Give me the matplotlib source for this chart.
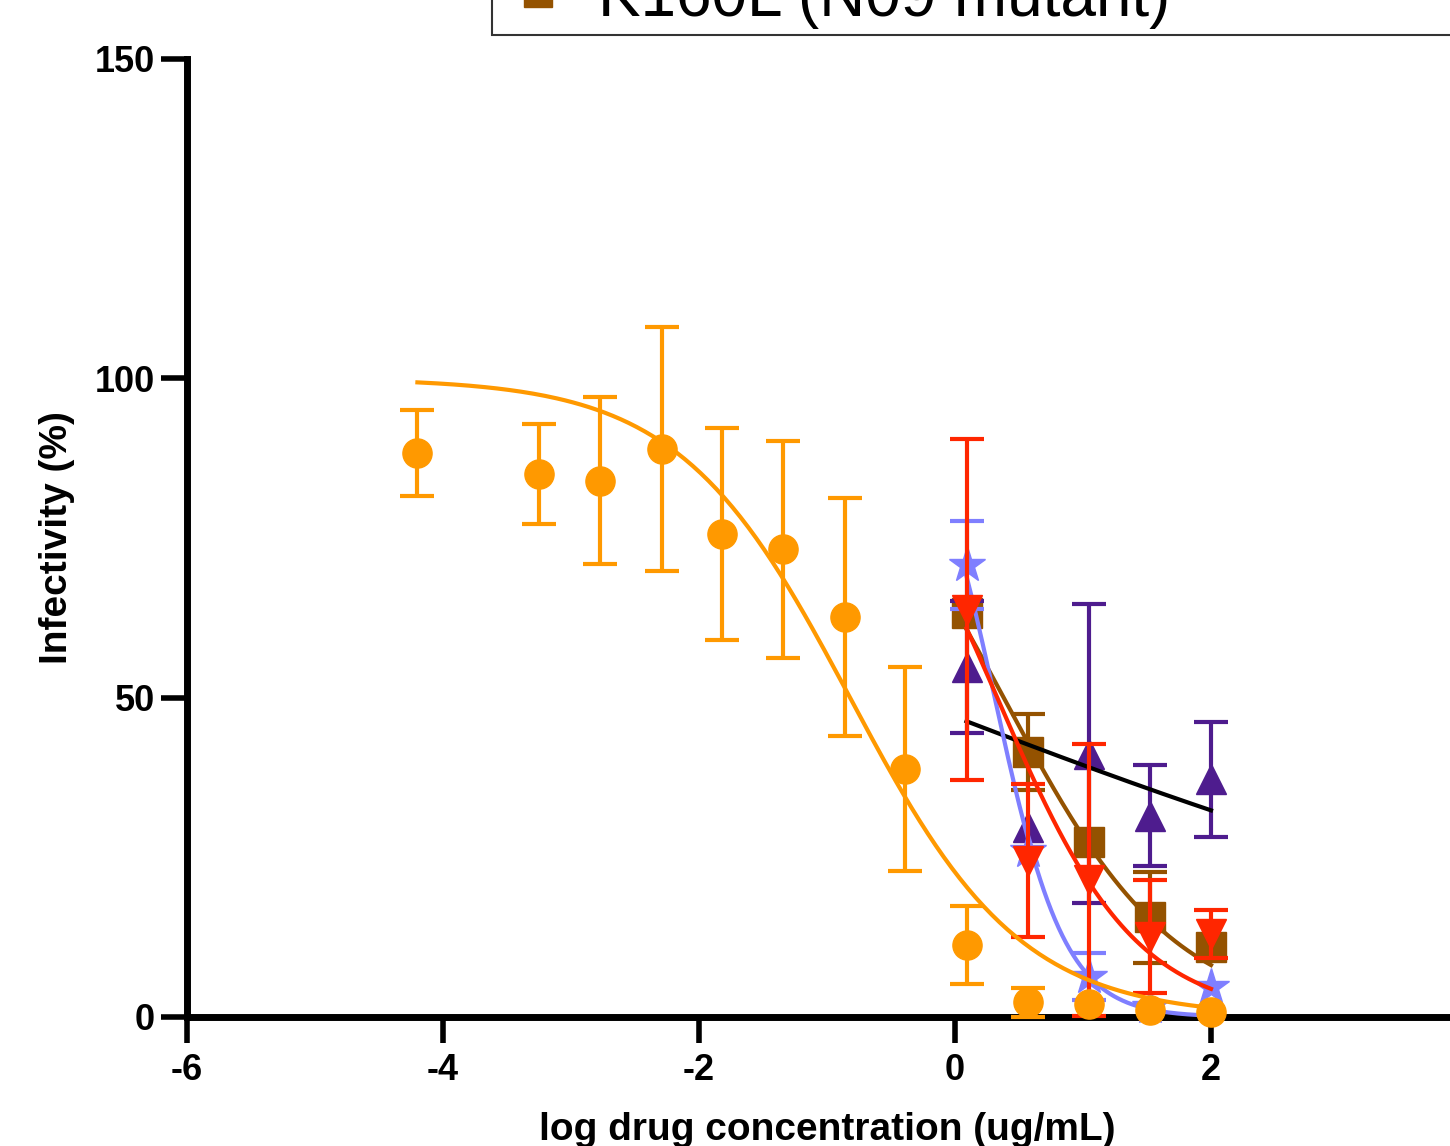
#!/usr/bin/env python3
"""Dose-response curves: infectivity vs log drug concentration."""

import matplotlib
matplotlib.use("Agg")
import matplotlib.pyplot as plt
from matplotlib.lines import Line2D
import numpy as np

# ---- data ----
X_LONG = [-4.20, -3.25, -2.77, -2.29, -1.82, -1.34, -0.86, -0.39,
          0.09, 0.57, 1.05, 1.52, 2.00]
X_SHORT = [0.09, 0.57, 1.05, 1.52, 2.00]

orange_y = [88.3, 85.0, 84.0, 88.9, 75.7, 73.2, 62.6, 38.8, 11.3, 2.3, 2.0, 1.1, 0.8]
orange_err = [6.8, 7.8, 13.1, 19.1, 16.6, 17.0, 18.6, 16.0, 6.1, 2.3, 0, 0, 0]

blue_y = [70.8, 26.0, 6.3, 1.5, 4.7]
blue_err = [6.9, 0, 3.7, 0, 0]

purple_y = [54.8, 29.7, 41.2, 31.5, 37.2]
purple_err = [10.3, 0, 23.4, 7.9, 9.0]

red_y = [63.8, 24.5, 21.4, 12.6, 13.0]
red_err = [26.7, 12.0, 21.3, 8.8, 3.7]

brown_y = [63.2, 41.5, 27.4, 15.6, 11.0]
brown_err = [0, 5.9, 0, 7.1, 0]

# fitted 4PL parameters: (bottom, top, logIC50, hill)
orange_fit = (0, 100, -0.82, 0.65)
blue_fit = (0, 100, 0.31, 1.58)
purple_fit = (0, 100, -0.39, 0.134)
red_fit = (0, 100, 0.33, 0.80)
brown_fit = (0, 100, 0.38, 0.65)

LEGEND_LABEL = "K160L (N09 mutant)"

C_ORANGE = "#FF9900"
C_BLUE = "#7F7FFF"
C_PURPLE = "#4E1C8E"
C_RED = "#FF2600"
C_BROWN = "#945200"

plt.rcParams["font.family"] = ["Liberation Sans", "DejaVu Sans"]
plt.rcParams["axes.unicode_minus"] = False


def four_pl(x, params):
    bottom, top, logic50, hill = params
    return bottom + (top - bottom) / (1 + 10 ** ((x - logic50) * hill))


def draw(ax, x, y, err, fit, color, marker, ms, z, fit_color=None):
    x, y, err = np.asarray(x), np.asarray(y), np.asarray(err)
    has = err > 0
    # error bars only where they stick out of the symbol
    ax.errorbar(x[has], y[has], yerr=err[has], fmt="none", ecolor=color,
                capsize=12, elinewidth=3, capthick=3, zorder=z,
                clip_on=False)
    xs = np.linspace(x[0], x[-1], 200)
    ax.plot(xs, four_pl(xs, fit), color=fit_color or color, lw=3,
            zorder=z + 0.1, clip_on=False)
    ax.plot(x, y, ls="none", marker=marker, ms=ms, color=color, mec=color,
            zorder=z + 0.05, clip_on=False)


fig = plt.figure(figsize=(14.5, 11.46), dpi=100)
ax = fig.add_axes([187 / 1450, 129 / 1146, 1280 / 1450, 958 / 1146])

draw(ax, X_SHORT, brown_y, brown_err, brown_fit, C_BROWN, "s", 21, 3)
draw(ax, X_SHORT, purple_y, purple_err, purple_fit, C_PURPLE, "^", 21, 4,
     fit_color="black")
draw(ax, X_SHORT, blue_y, blue_err, blue_fit, C_BLUE, "*", 27, 5)
draw(ax, X_SHORT, red_y, red_err, red_fit, C_RED, "v", 21, 6)
draw(ax, X_LONG, orange_y, orange_err, orange_fit, C_ORANGE, "o", 21, 7)

ax.set_xlim(-6, 4)
ax.set_ylim(0, 150)
ax.set_xticks(np.arange(-6, 3, 2))
ax.set_yticks([0, 50, 100, 150])

for side in ("top", "right"):
    ax.spines[side].set_visible(False)
for side in ("left", "bottom"):
    ax.spines[side].set_linewidth(5)

ax.tick_params(axis="both", length=19, width=4, labelsize=26)
ax.tick_params(axis="x", pad=7)
ax.tick_params(axis="y", pad=4)
for lab in ax.get_xticklabels() + ax.get_yticklabels():
    lab.set_fontweight("bold")

ax.set_xlabel("log drug concentration (ug/mL)", fontsize=28,
              fontweight="bold", labelpad=17)
ax.set_ylabel("Infectivity (%)", fontsize=28, fontweight="bold", labelpad=14)

handle = Line2D([], [], color=C_BROWN, marker="s", ms=20, lw=4)
leg = fig.legend([handle], [LEGEND_LABEL], loc="lower left",
                 bbox_to_anchor=(492 / 1450, 1 - 35 / 1146, 0.8, 0.1),
                 mode="expand", fontsize=46, frameon=True, fancybox=False,
                 borderpad=0.1, handlelength=1.25, handletextpad=0.31,
                 borderaxespad=0)
leg.get_frame().set_edgecolor("black")
leg.get_frame().set_linewidth(1.5)

fig.savefig("out.png", dpi=100)
